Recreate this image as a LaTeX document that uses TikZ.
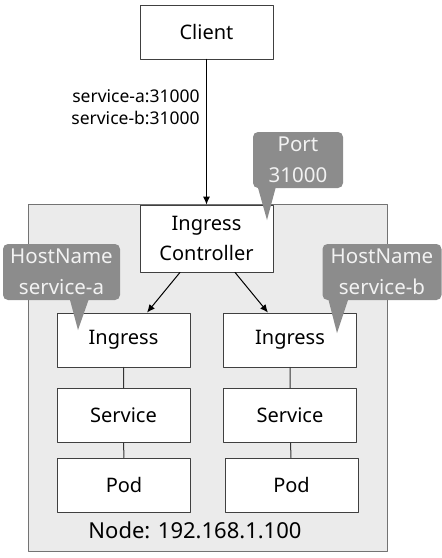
\documentclass[tikz,border=0pt]{standalone}
\usepackage{fontspec}
\setmainfont{Noto Sans}
\usetikzlibrary{arrows.meta, calc}

\tikzset{
    box/.style={draw=black!75, fill=white, line width=0.8pt, minimum width=133pt, minimum height=54pt, inner sep=0pt, align=center, font=\fontsize{20}{30}\selectfont},
    tag/.style={fill=black!45, rounded corners=5pt, text=black!5, inner sep=0pt, align=center, font=\fontsize{20.5}{31}\selectfont},
    link/.style={line width=1pt, -{Latex[length=8pt,width=7pt]}},
    wire/.style={draw=black!80, line width=1pt}
}

\begin{document}
\begin{tikzpicture}[line cap=round,line join=round,x=1pt,y=-1pt]
    \useasboundingbox (0,0) rectangle (442,558);

    % node area
    \draw [fill=black!8, draw=black!55, line width=0.8pt] (28,204) rectangle (387,551);
    \node (nodelabel) at (195,530) [font=\fontsize{22}{24}\selectfont] {Node: 192.168.1.100};

    \node[box] (client) at (206.5,32) {Client};
    \node[box, minimum height=67pt] (ic) at (206.5,238.5) {Ingress\\Controller};

    \node[box] (ingA) at (123.5,340) {Ingress};
    \node[box] (ingB) at (290,340) {Ingress};
    \node[box] (svcA) at (123.5,415.5) {Service};
    \node[box] (svcB) at (290,415.5) {Service};
    \node[box] (podA) at (124,485) {Pod};
    \node[box] (podB) at (291.5,485) {Pod};

    \draw[link] (client) -- (ic) node[pos=0.33, left=3pt, align=right, font=\fontsize{17.5}{22}\selectfont] (ports) {service-a:31000\\service-b:31000};
    \draw[link] ([xshift=-26.5pt]ic.south) -- ([xshift=23.5pt]ingA.north);
    \draw[link] ([xshift=28.5pt]ic.south) -- ([xshift=-22pt]ingB.north);
    \draw[wire] (ingA) -- (svcA) -- (podA);
    \draw[wire] (ingB) -- (svcB) -- (podB);

    % callouts
    \node[tag, minimum width=90pt, minimum height=56pt] (port) at (298,160) {Port\\31000};
    \node[tag, minimum width=117pt, minimum height=56pt] (hostA) at (61.5,272) {HostName\\service-a};
    \node[tag, minimum width=119pt, minimum height=56pt] (hostB) at (382,272) {HostName\\service-b};
    \coordinate (porttip) at (267,220);
    \coordinate (hostAtip) at (78,330);
    \coordinate (hostBtip) at (337,333);
    \fill[black!45] ($(port.south west)+(5,-1)$) -- ($(port.south west)+(23,-1)$) -- (porttip) -- cycle;
    \fill[black!45] ($(hostA.south west)+(67,-1)$) -- ($(hostA.south west)+(86,-1)$) -- (hostAtip) -- cycle;
    \fill[black!45] ($(hostB.south west)+(6,-1)$) -- ($(hostB.south west)+(26,-1)$) -- (hostBtip) -- cycle;

\end{tikzpicture}
\end{document}
